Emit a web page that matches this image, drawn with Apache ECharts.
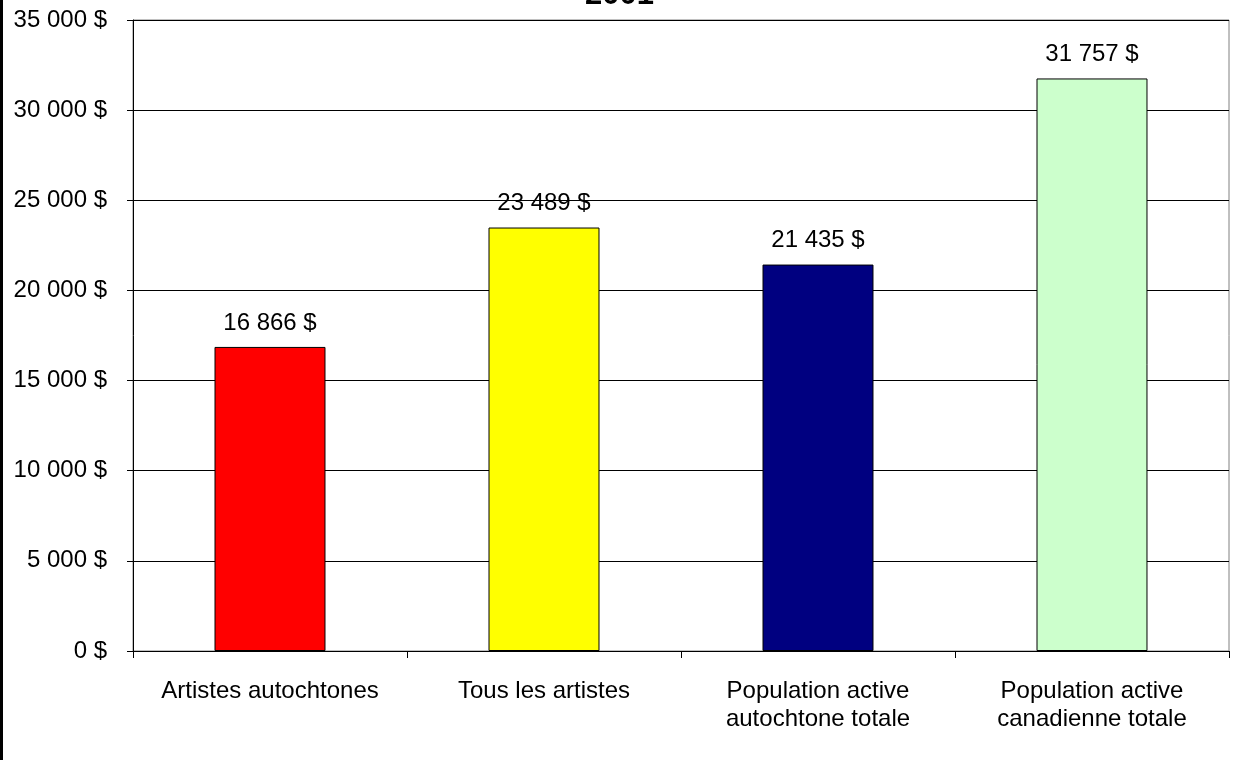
<!DOCTYPE html>
<html>
<head>
<meta charset="utf-8">
<script src="https://cdn.jsdelivr.net/npm/echarts@6/dist/echarts.min.js"></script>
<style>
html,body{margin:0;padding:0;background:#fff;}
#chart{width:1239px;height:760px;}
</style>
</head>
<body>
<div id="chart"></div>
<script>
const titleText = '2001';
const categories = ['Artistes autochtones', 'Tous les artistes', 'Population active\nautochtone totale', 'Population active\ncanadienne totale'];
const values = [16866, 23489, 21435, 31757];
const barColors = ['#FF0000', '#FFFF00', '#000080', '#CCFFCC'];
const yTicks = [0, 5000, 10000, 15000, 20000, 25000, 30000, 35000];

function fmt(v) {
  return String(Math.round(v)).replace(/\B(?=(\d{3})+(?!\d))/g, ' ') + ' $';
}

const chart = echarts.init(document.getElementById('chart'));
const FONT = '"Liberation Sans", Arial, sans-serif';
chart.setOption({
  animation: false,
  backgroundColor: '#fff',
  title: {
    text: titleText,
    left: 'center',
    top: -25,
    textStyle: {fontFamily: FONT, fontSize: 31, fontWeight: 'bold', color: '#000'}
  },
  graphic: [{
    type: 'line',
    shape: {x1: 1.5, y1: 0, x2: 1.5, y2: 760},
    style: {stroke: '#000', lineWidth: 3}
  }],
  grid: {
    left: 133, right: 10, top: 20, bottom: 109,
    show: true, borderColor: '#808080', borderWidth: 1, backgroundColor: 'transparent'
  },
  xAxis: {
    type: 'category',
    data: categories,
    axisLine: {lineStyle: {color: '#000', width: 1}},
    axisTick: {show: true, length: 7, lineStyle: {color: '#000'}},
    axisLabel: {fontFamily: FONT, fontSize: 24, color: '#000', margin: 26, lineHeight: 28, interval: 0}
  },
  yAxis: {
    type: 'value',
    min: yTicks[0],
    max: yTicks[yTicks.length - 1],
    interval: 5000,
    axisLine: {show: true, lineStyle: {color: '#000', width: 1}},
    axisTick: {show: true, length: 6, lineStyle: {color: '#000'}},
    axisLabel: {fontFamily: FONT, fontSize: 24, color: '#000', margin: 26, formatter: fmt},
    splitLine: {show: true, lineStyle: {color: '#000', width: 1}}
  },
  series: [{
    type: 'bar',
    data: values.map((v, i) => ({value: v, itemStyle: {color: barColors[i]}})),
    barWidth: '40.5%',
    itemStyle: {borderColor: '#000', borderWidth: 1},
    label: {
      show: true, position: 'top', distance: 12,
      fontFamily: FONT, fontSize: 24, color: '#000',
      formatter: p => fmt(p.value)
    }
  }]
});
</script>
</body>
</html>
